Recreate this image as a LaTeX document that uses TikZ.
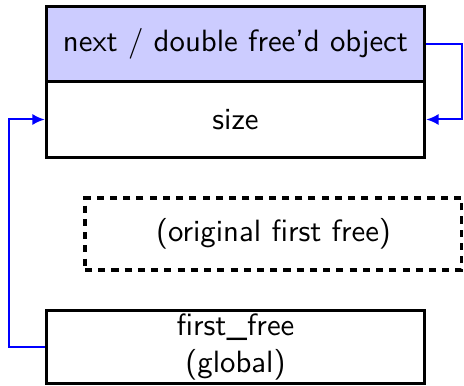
\documentclass[tikz,border=0pt]{standalone}
\usetikzlibrary{arrows.meta}
\begin{document}
\begin{tikzpicture}[x=0.325pt,y=-0.325pt,
  font=\sffamily,
  cell/.style={draw=black,line width=1pt,minimum width=123pt,minimum height=24.5pt,inner sep=0pt,align=center},
  ghost/.style={draw=black,line width=1pt,dash pattern=on 2.3pt off 2pt,minimum width=122.5pt,minimum height=23.4pt,inner sep=0pt},
  link/.style={draw=blue,line width=0.65pt,-{Latex[length=4pt,width=3.6pt]}}]
\useasboundingbox (0,0) rectangle (464,386);
\node[cell,fill=blue!20] (next) at (235.5,44) {next / double free'd object};
\node[cell] (size) at (235.5,119.5) {size};
\node[ghost] (orig) at (273.5,234) {(original first free)};
\node[cell,minimum height=24pt] (ff) at (235.5,347) {first\_free\\(global)};
\coordinate (rt) at (462,44);
\coordinate (lt) at (9,347);
\draw[link] (next.east) -- (rt) |- (size.east);
\draw[link] (ff.west) -- (lt) |- (size.west);
\end{tikzpicture}
\end{document}
